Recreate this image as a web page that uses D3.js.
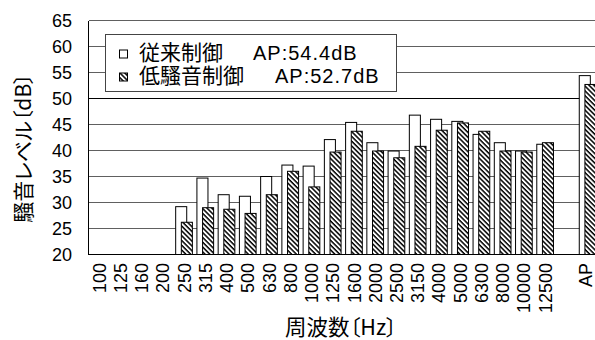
<!DOCTYPE html>
<html>
<head>
<meta charset="utf-8">
<script src="https://cdn.jsdelivr.net/npm/d3@7"></script>
<style>
  html, body { margin: 0; padding: 0; background: #fff; }
  svg { display: block; }
  .latin { font-family: "Liberation Sans", Arial, Helvetica, sans-serif; }
  .cjk { font-family: "Noto Sans CJK JP", sans-serif; font-feature-settings: "palt"; }
</style>
</head>
<body>
<script>
// 1/3-octave band centre frequencies (Hz)
const frequencies = ["100","125","160","200","250","315","400","500","630","800","1000",
  "1250","1600","2000","2500","3150","4000","5000","6300","8000","10000","12500"];

// Sound level per band [dB]; null = no measurement
const conventional = [null,null,null,null,29.2,34.7,31.5,31.2,35.0,37.2,37.0,
  42.1,45.4,41.5,39.9,46.8,46.0,45.6,43.1,41.5,39.9,41.2];
const lowNoise = [null,null,null,null,26.2,29.0,28.7,27.9,31.5,36.0,33.0,
  39.7,43.7,39.9,38.6,40.8,43.9,45.3,43.7,39.9,39.7,41.5];

// Overall (AP) levels [dB]
const apConventional = 54.4;
const apLowNoise = 52.7;

// Series names
const seriesNames = ["従来制御", "低騷音制御"];

// Axis ticks
const yTicks = [20,25,30,35,40,45,50,55,60,65];

const W = 595, H = 340;
const svg = d3.select("body").append("svg").attr("width", W).attr("height", H);

// Hatch fill for the low-noise control series
const defs = svg.append("defs");
const pat = defs.append("pattern")
  .attr("id", "hatch")
  .attr("patternUnits", "userSpaceOnUse")
  .attr("width", 4).attr("height", 3.4)
  .attr("patternTransform", "rotate(45)");
pat.append("rect").attr("width", 4).attr("height", 3.4).attr("fill", "#fff");
pat.append("rect").attr("width", 4).attr("height", 1.5).attr("fill", "#000");

// Slots: every band, one empty spacer, then AP
const slots = [...frequencies, "", "AP"];
const x = d3.scaleBand().domain(slots).range([88.5, 598.3]).padding(0);
const y = d3.scaleLinear().domain([20, 65]).range([254.5, 20.5]);
const bw = x.bandwidth();

const plotLeft = 88.5, plotRight = W;

// Horizontal grid
svg.append("g").selectAll("line")
  .data(yTicks.filter(v => v > 20))
  .join("line")
  .attr("x1", plotLeft).attr("x2", plotRight)
  .attr("y1", d => y(d)).attr("y2", d => y(d))
  .attr("stroke", d => d === 50 ? "#000" : "#606060")
  .attr("stroke-width", 1)
  .attr("shape-rendering", "crispEdges");

// Bar data
const rows = frequencies.map((f, i) => ({ key: f, a: conventional[i], b: lowNoise[i] }))
  .concat([{ key: "AP", a: apConventional, b: apLowNoise }])
  .filter(d => d.a != null);

const barW = bw * 0.52;
const bars = svg.append("g");
const groups = bars.selectAll("g").data(rows).join("g");

groups.append("rect")
  .attr("x", d => x(d.key) + bw * 0.104)
  .attr("y", d => y(d.a))
  .attr("width", barW)
  .attr("height", d => y(20) - y(d.a))
  .attr("fill", "#fff")
  .attr("stroke", "#000")
  .attr("stroke-width", 1);

groups.append("rect")
  .attr("x", d => x(d.key) + bw * 0.37)
  .attr("y", d => y(d.b))
  .attr("width", barW)
  .attr("height", d => y(20) - y(d.b))
  .attr("fill", "url(#hatch)")
  .attr("stroke", "#000")
  .attr("stroke-width", 1);

// Axis lines
svg.append("line")
  .attr("x1", plotLeft).attr("x2", plotLeft)
  .attr("y1", y(65)).attr("y2", y(20))
  .attr("stroke", "#000").attr("shape-rendering", "crispEdges");
svg.append("line")
  .attr("x1", plotLeft).attr("x2", plotRight)
  .attr("y1", y(20)).attr("y2", y(20))
  .attr("stroke", "#000").attr("shape-rendering", "crispEdges");

// Y axis tick labels
const yAxis = svg.append("g")
  .attr("transform", `translate(${plotLeft},0)`)
  .call(d3.axisLeft(y).tickValues(yTicks).tickSize(0).tickPadding(16.5));
yAxis.select(".domain").remove();
yAxis.selectAll("text")
  .attr("class", "latin")
  .attr("font-family", null)
  .style("font-size", "18px")
  .attr("fill", "#000");

// X axis tick labels (rotated); the last one is nudged in from the page edge
const xAxis = svg.append("g")
  .attr("transform", `translate(0,${y(20)})`)
  .call(d3.axisBottom(x).tickSize(0));
xAxis.select(".domain").remove();
xAxis.selectAll("text")
  .attr("class", "latin")
  .attr("font-family", null)
  .style("font-size", "18px")
  .attr("fill", "#000")
  .attr("text-anchor", "end")
  .attr("transform", "rotate(-90)")
  .attr("x", -8.5)
  .attr("y", d => d === "AP" ? -2.5 : 0)
  .attr("dy", "0.36em");

// Axis titles
svg.append("text")
  .attr("class", "cjk")
  .attr("transform", "translate(31,148) rotate(-90)")
  .attr("text-anchor", "middle")
  .style("font-size", "21px")
  .text("騷音レベル〔dB〕");

svg.append("text")
  .attr("class", "cjk")
  .attr("x", 341).attr("y", 335)
  .attr("text-anchor", "middle")
  .style("font-size", "21.5px")
  .text("周波数〔Hz〕");

// Legend
const leg = svg.append("g");
leg.append("rect")
  .attr("x", 105.5).attr("y", 34.5)
  .attr("width", 291).attr("height", 57)
  .attr("fill", "#fff").attr("stroke", "#444").attr("stroke-width", 1);

const legendItems = [
  { name: seriesNames[0], ap: apConventional, fill: "#fff", base: 59.5, apX: 253 },
  { name: seriesNames[1], ap: apLowNoise, fill: "url(#hatch)", base: 82.5, apX: 275 }
];
const fmt = d3.format(".1f");
legendItems.forEach(it => {
  leg.append("rect")
    .attr("x", 119.5).attr("y", it.base - 9.5)
    .attr("width", 8).attr("height", 8)
    .attr("fill", it.fill).attr("stroke", "#000").attr("stroke-width", 1);
  leg.append("text")
    .attr("class", "cjk")
    .attr("x", 139).attr("y", it.base)
    .style("font-size", "21px")
    .text(it.name);
  leg.append("text")
    .attr("class", "latin")
    .attr("x", it.apX).attr("y", it.base)
    .style("font-size", "20px")
    .style("letter-spacing", "1px")
    .text(`AP:${fmt(it.ap)}dB`);
});
</script>
</body>
</html>
